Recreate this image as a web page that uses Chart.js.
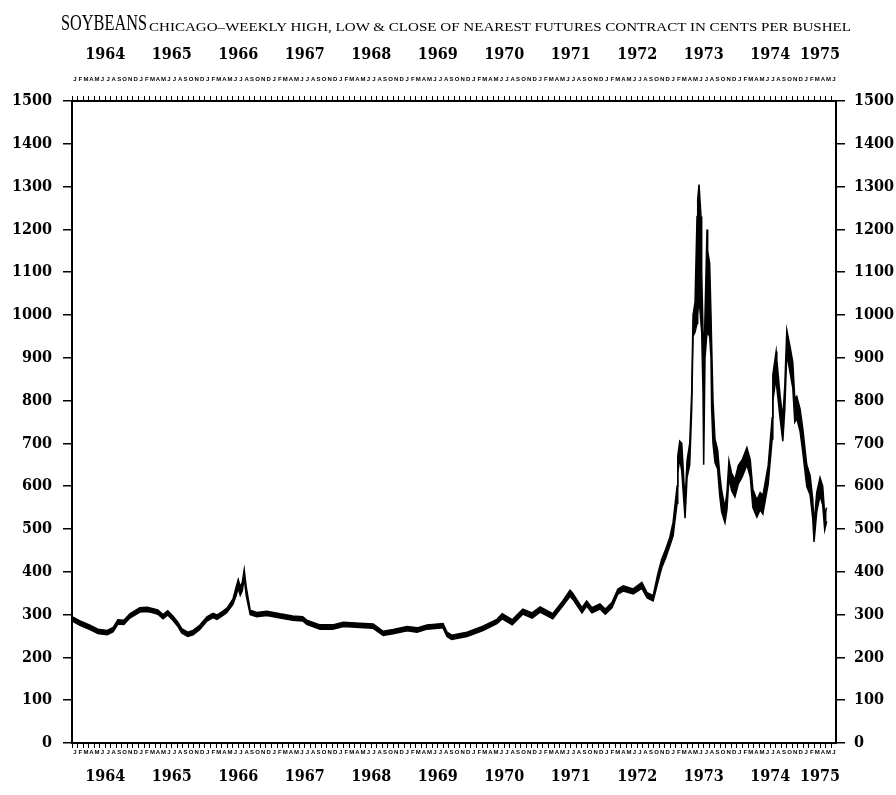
<!DOCTYPE html>
<html>
<head>
<meta charset="utf-8">
<script src="https://cdn.jsdelivr.net/npm/chart.js@4.4.1/dist/chart.umd.min.js"></script>
<style>
  html, body { margin: 0; padding: 0; background: #fff; }
  #wrap { position: relative; width: 896px; height: 795px; }
  #chart { position: absolute; left: 0; top: 0; }
  .ttl { position: absolute; white-space: nowrap; font-family: "Liberation Serif", serif; line-height: 1; color: #000; transform-origin: 0 0; }
  #t1 { left: 61px; top: 11px; font-size: 23px; }
  #t2 { left: 149px; top: 20px; font-size: 13.5px; }
</style>
</head>
<body>
<div id="wrap">
  <canvas id="chart" width="896" height="795"></canvas>
  <span class="ttl" id="t1">SOYBEANS</span>
  <span class="ttl" id="t2">CHICAGO–WEEKLY HIGH, LOW &amp; CLOSE OF NEAREST FUTURES CONTRACT IN CENTS PER BUSHEL</span>
</div>
<script>
// weekly samples (decimal years), cents per bushel
const weeks = [
  1964.00, 1964.12, 1964.27, 1964.39, 1964.53, 1964.62, 1964.69, 1964.78, 1964.87,
  1965.02, 1965.13, 1965.22, 1965.29, 1965.37, 1965.44, 1965.52, 1965.59, 1965.65, 1965.74, 1965.82, 1965.92,
  1966.03, 1966.12, 1966.18, 1966.26, 1966.33, 1966.42, 1966.47, 1966.50, 1966.53, 1966.56, 1966.59, 1966.62, 1966.65, 1966.68, 1966.78, 1966.93,
  1967.13, 1967.32, 1967.47, 1967.53, 1967.73, 1967.92,
  1968.08, 1968.33, 1968.53, 1968.68, 1968.83,
  1969.04, 1969.19, 1969.34, 1969.58, 1969.64, 1969.71, 1969.94,
  1970.18, 1970.39, 1970.47, 1970.62, 1970.78, 1970.92,
  1971.04, 1971.23, 1971.38, 1971.49, 1971.53, 1971.67, 1971.74, 1971.82, 1971.94,
  1972.02, 1972.12, 1972.21, 1972.29, 1972.44, 1972.57, 1972.65, 1972.74, 1972.81, 1972.87, 1972.93, 1972.99,
  1973.04, 1973.10, 1973.11, 1973.14, 1973.17, 1973.22, 1973.25, 1973.29, 1973.32, 1973.34, 1973.37, 1973.40,
  1973.41, 1973.43, 1973.46, 1973.47, 1973.49, 1973.50, 1973.52, 1973.55, 1973.56, 1973.59, 1973.61, 1973.62,
  1973.64, 1973.67, 1973.71, 1973.74, 1973.77, 1973.82, 1973.85, 1973.88, 1973.92, 1973.97,
  1974.02, 1974.08, 1974.12, 1974.15, 1974.20, 1974.24, 1974.30, 1974.35, 1974.39, 1974.47, 1974.53, 1974.54,
  1974.59, 1974.60, 1974.65, 1974.69, 1974.72, 1974.75, 1974.80, 1974.84, 1974.87, 1974.90, 1974.95, 1974.99,
  1975.05, 1975.10, 1975.14, 1975.16, 1975.20, 1975.25, 1975.29, 1975.32, 1975.35
];
const highs = [
  295, 285, 275, 266, 263, 270, 288, 287, 302,
  316, 317, 314, 311, 300, 309, 296, 283, 267, 259, 263, 275,
  295, 303, 299, 307, 315, 336, 365, 382, 365, 375, 405, 365, 338, 310, 305, 308,
  302, 297, 295, 287, 276, 276,
  282, 280, 278, 261, 265,
  272, 269, 276, 279, 259, 252, 259,
  273, 289, 302, 288, 313, 304,
  318, 302, 332, 357, 350, 316, 332, 316, 325,
  313, 328, 360, 367, 360, 375, 351, 344, 395, 430, 453, 480,
  516, 600, 670, 705, 700, 565, 660, 700, 820, 1000, 1030, 1230,
  1270, 1305, 1230, 1100, 960, 860, 1000, 1200, 1150, 1120, 1000, 930,
  800, 710, 685, 630, 590, 550, 585, 660, 630, 615,
  648, 662, 678, 690, 662, 592, 568, 585, 578, 648, 760, 860,
  915, 895, 810, 760, 835, 965, 925, 890, 805, 810, 780, 735,
  650, 625, 570, 510, 585, 620, 600, 535, 550
];
const lows = [
  285, 275, 265, 256, 253, 260, 278, 277, 292,
  306, 307, 304, 301, 290, 299, 286, 273, 257, 249, 253, 265,
  285, 293, 289, 297, 305, 324, 345, 362, 345, 355, 385, 345, 322, 300, 295, 298,
  292, 287, 285, 277, 266, 266,
  272, 270, 268, 251, 255,
  262, 259, 266, 269, 249, 242, 249,
  263, 279, 290, 276, 301, 292,
  306, 290, 320, 343, 336, 304, 320, 304, 313,
  301, 316, 348, 355, 348, 361, 339, 332, 375, 410, 433, 460,
  484, 560, 630, 665, 635, 525, 620, 650, 780, 950, 960, 980,
  1000, 1040, 980, 960, 820, 650, 900, 960, 960, 950, 900, 780,
  700, 655, 640, 580, 540, 515, 545, 620, 590, 575,
  605, 622, 638, 650, 622, 550, 528, 545, 535, 605, 710, 800,
  855, 830, 758, 705, 780, 910, 865, 830, 750, 758, 728, 680,
  600, 580, 525, 470, 540, 578, 556, 498, 518
];

const years = ['1964', '1965', '1966', '1967', '1968', '1969', '1970', '1971', '1972', '1973', '1974', '1975'];
const yearPos = [1964.5, 1965.5, 1966.5, 1967.5, 1968.5, 1969.5, 1970.5, 1971.5, 1972.5, 1973.5, 1974.5, 1975.25];
const monthLetters = ['J', 'F', 'M', 'A', 'M', 'J', 'J', 'A', 'S', 'O', 'N', 'D'];
const xMin = 1964, xMax = 1975.49;

// month boundaries, Jan 1964 .. Jun 1975
const monthPos = [];
for (let i = 0; i < 138; i++) monthPos.push(1964 + i / 12);

const numFont = { family: '"DejaVu Serif Condensed", "DejaVu Serif", serif', size: 16, weight: 'bold' };
const monFont = { family: '"Liberation Sans", sans-serif', size: 6, weight: 'bold' };

function monthAxis(pos, pad, h) {
  return {
    type: 'linear', position: pos, min: xMin, max: xMax,
    afterBuildTicks: s => { s.ticks = monthPos.map(v => ({ value: v })); },
    afterFit: s => { s.height = h; },
    grid: { drawOnChartArea: false, drawTicks: true, tickLength: 5, color: '#000', lineWidth: 1 },
    border: { display: true, color: '#000', width: 2 },
    ticks: {
      autoSkip: false, maxRotation: 0, minRotation: 0, padding: pad, labelOffset: 2.8,
      color: '#000', font: monFont, callback: (v, i) => monthLetters[i % 12]
    }
  };
}

function yearAxis(pos, pad, h) {
  return {
    type: 'linear', position: pos, min: xMin, max: xMax, weight: 1,
    afterBuildTicks: s => { s.ticks = yearPos.map(v => ({ value: v })); },
    afterFit: s => { s.height = h; },
    grid: { display: false, drawTicks: false },
    border: { display: false },
    ticks: {
      autoSkip: false, maxRotation: 0, minRotation: 0, padding: pad,
      color: '#000', font: numFont, callback: (v, i) => years[i]
    }
  };
}

function valueAxis(pos, pad, w) {
  return {
    type: 'linear', position: pos, min: 0, max: 1500,
    afterFit: s => { s.width = w; },
    grid: { drawOnChartArea: false, tickLength: 9, color: '#000', lineWidth: 1.5 },
    border: { color: '#000', width: 2 },
    ticks: { stepSize: 100, padding: pad, color: '#000', font: numFont, callback: v => String(v) }
  };
}

new Chart(document.getElementById('chart'), {
  type: 'line',
  data: {
    datasets: [
      {
        label: 'High',
        data: weeks.map((w, i) => ({ x: w, y: highs[i] })),
        borderColor: '#000', borderWidth: 1.5, pointRadius: 0, fill: false
      },
      {
        label: 'Low',
        data: weeks.map((w, i) => ({ x: w, y: lows[i] })),
        borderColor: '#000', borderWidth: 1.5, pointRadius: 0,
        fill: '-1', backgroundColor: '#000'
      }
    ]
  },
  options: {
    responsive: false,
    animation: false,
    layout: { padding: { top: 40, left: 10, right: 0, bottom: 0 } },
    plugins: { legend: { display: false }, tooltip: { enabled: false }, title: { display: false } },
    scales: {
      x: monthAxis('bottom', 1, 14),
      xYears: yearAxis('bottom', 10, 38),
      xTop: monthAxis('top', 13, 27),
      xTopYears: yearAxis('top', 10, 34),
      y: valueAxis('left', 11, 62),
      yRight: valueAxis('right', 9, 60)
    }
  }
});

// squeeze the title words to their printed widths
function fitWidth(id, target) {
  const el = document.getElementById(id);
  const w = el.getBoundingClientRect().width;
  el.style.transform = 'scaleX(' + (target / w) + ')';
}
fitWidth('t1', 86);
fitWidth('t2', 702);
</script>
</body>
</html>
